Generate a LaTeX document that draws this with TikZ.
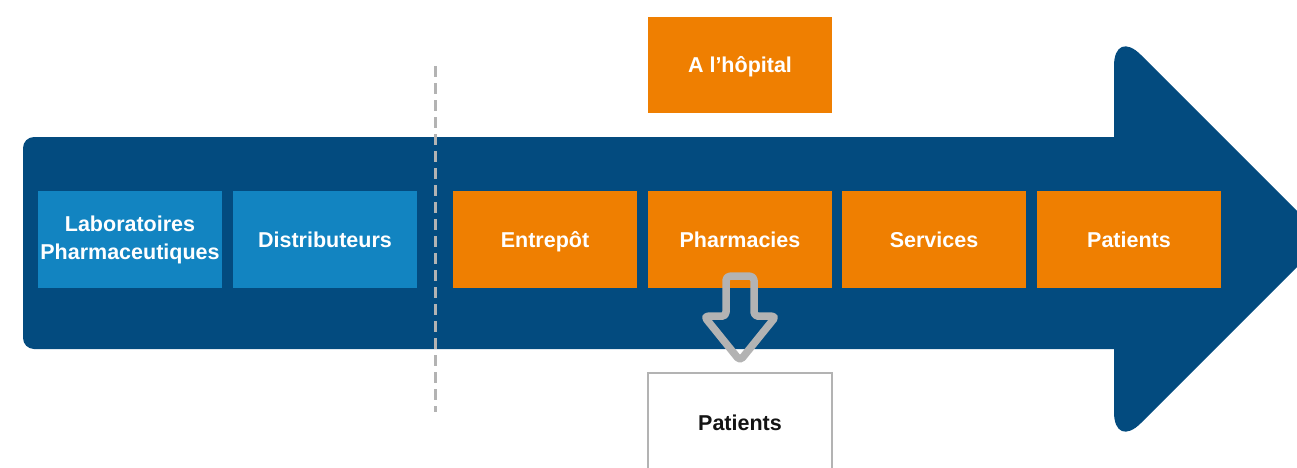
\documentclass[tikz,border=0pt]{standalone}
\usepackage{fontspec}
\setmainfont{Liberation Sans}
\usetikzlibrary{calc}
\definecolor{deepblue}{HTML}{034B7F}
\definecolor{boxblue}{HTML}{1284C1}
\definecolor{boxorange}{HTML}{EF7F01}
\definecolor{softgray}{HTML}{B3B3B3}
\definecolor{inkblack}{HTML}{141414}
\tikzset{
  labelfont/.style={font=\fontsize{21.5}{28}\selectfont\bfseries},
  stagebox/.style={rectangle, minimum width=184pt, minimum height=97pt, inner sep=0pt,
    align=center, text=white, labelfont},
  oneline/.style={text height=15.4pt, text depth=0pt},
  upstream/.style={stagebox, fill=boxblue},
  hospital/.style={stagebox, oneline, fill=boxorange},
  outbox/.style={rectangle, minimum width=184pt, minimum height=100pt, inner sep=0pt,
    draw=softgray, line width=2.5pt, fill=white, text=inkblack, labelfont, oneline},
  divider/.style={softgray, line width=3pt, dash pattern=on 11pt off 6pt},
  hollowarrow/.style={draw=softgray, line width=7.5pt, line join=round, rounded corners=4pt}
}
\begin{document}
\begin{tikzpicture}[x=1pt,y=1pt]
\useasboundingbox (0,0) rectangle (1297,467);
% big flow arrow: shaft and head
\fill[deepblue, rounded corners=11pt] (23,118) rectangle (1160,330);
\fill[deepblue, rounded corners=38pt] (1114,117) -- (1114,439) -- (1325,228) -- (1114,17) -- cycle;
% supply-chain stages
\node[upstream] (lab) at (130,227.5) {Laboratoires\\Pharmaceutiques};
\node[upstream, oneline] (dist) at (325,227.5) {Distributeurs};
\node[hospital] (ent) at (545,227.5) {Entrepôt};
\node[hospital] (pha) at (740,227.5) {Pharmacies};
\node[hospital] (ser) at (934,227.5) {Services};
\node[hospital] (pat) at (1129,227.5) {Patients};
\node[hospital, minimum height=96pt] (hop) at (740,402) {A l’hôpital};
% outpatients box, open at the bottom edge
\node[outbox] (out) at (740,44) {Patients};
% boundary between upstream and hospital
\coordinate (dtop) at (435,401);
\coordinate (dbot) at (435,55);
\draw[divider] (dtop) -- (dbot);
% hollow arrow from the pharmacy down to the outpatients
\coordinate (a) at ($(pha.south)+(0,12)$);
\draw[hollowarrow] ($(a)+(-14,0)$) -- ($(a)+(-14,-40)$) -- ($(a)+(-36,-40)$)
  -- ($(out.north)+(0,11)$) -- ($(a)+(36,-40)$) -- ($(a)+(14,-40)$) -- ($(a)+(14,0)$) -- cycle;
\end{tikzpicture}
\end{document}
